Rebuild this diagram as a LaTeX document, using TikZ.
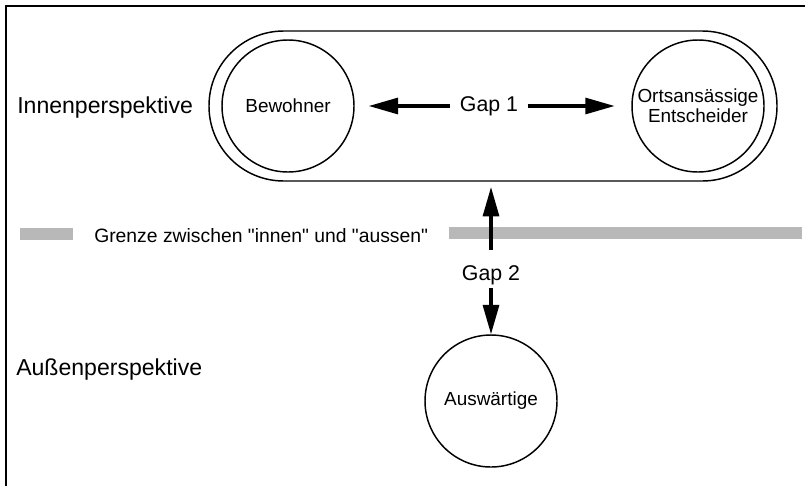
\documentclass[tikz,border=0pt]{standalone}
\usepackage{fontspec}
\setmainfont{Liberation Sans}
\newfontfamily\grenzefont{Liberation Sans}
\usetikzlibrary{arrows.meta}

\begin{document}
\begin{tikzpicture}[x=0.75pt,y=-0.75pt,
  person/.style={draw, circle, line width=1.1pt, minimum size=99pt, inner sep=0pt, align=center, font=\fontsize{14.2}{15}\selectfont},
  gaparrow/.style={line width=2.3pt, -{Triangle[length=22pt,width=12pt]}},
  gaplabel/.style={font=\fontsize{16}{18}\selectfont},
  perspective/.style={anchor=base west, inner sep=0pt, font=\fontsize{17.3}{20}\selectfont},
  border/.style={fill=black!28}]

\useasboundingbox (0,0) rectangle (805,486);

\draw [line width=1.5pt] (805,6)--(6,6)--(6,486);

% Innen
\draw [line width=1.1pt, rounded corners=56pt] (209,31) rectangle (777,181);
\node [person] (bewohner) at (288,106) {Bewohner};
\node [person] (entscheider) at (698,106) {Ortsansässige\\Entscheider};

\node [gaplabel, inner sep=7pt] (gap1) at (489,106) {Gap 1};
\draw [gaparrow, shorten >=10.5pt] (gap1.west)--(bewohner.east);
\draw [gaparrow, shorten >=12.5pt] (gap1.east)--(entscheider.west);

\node [perspective] (innen) at (17,113) {Innenperspektive};

% Grenze
\fill [border] (20,228) rectangle (73,240);
\fill [border] (449,227) rectangle (802,239);
\node [anchor=base west, inner sep=0pt, font=\grenzefont\fontsize{14.5}{16}\selectfont] (grenze) at (94,242) {Grenze zwischen "innen" und "aussen"};

% Aussen
\coordinate (innenrand) at (491,181);
\node [gaplabel, inner sep=0pt] (gap2) at (491,275) {Gap 2};
\node [person] (auswaertige) at (491,401) {Auswärtige};
\draw [gaparrow, shorten <=11pt, shorten >=4.5pt] (gap2.north)--(innenrand);
\draw [gaparrow, shorten <=2.6pt] (gap2.south)--(auswaertige.north);

\node [perspective] (aussen) at (16,375) {Außenperspektive};

\end{tikzpicture}
\end{document}
